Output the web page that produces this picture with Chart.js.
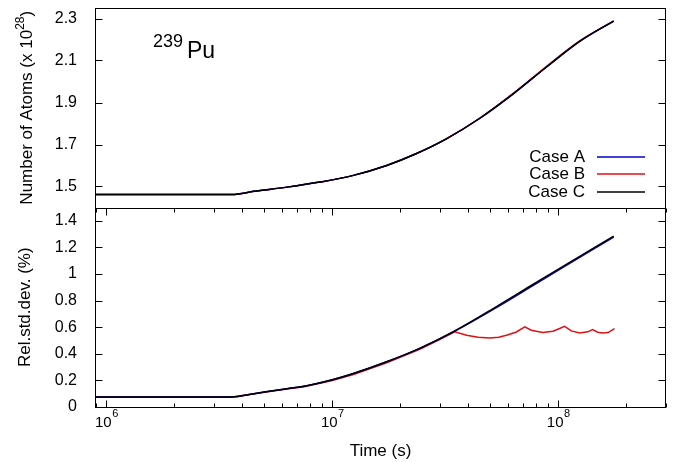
<!DOCTYPE html>
<html>
<head>
<meta charset="utf-8">
<script src="https://cdn.jsdelivr.net/npm/chart.js@4.4.1/dist/chart.umd.min.js"></script>
<style>
  html, body { margin: 0; padding: 0; background: #fff; }
  #wrap { width: 674px; height: 462px; }
</style>
</head>
<body>
<div id="wrap"><canvas id="chart" width="674" height="462"></canvas></div>
<script>
// ─────────────────────────────────────────────
//  DATA
// ─────────────────────────────────────────────

// top panel: number of Pu-239 atoms (x 1e28)
const atomTime = [8.9e5, 3.6e6, 4.5e6, 6.3e6, 8.8e6, 1.24e7, 1.74e7, 2.36e7, 3.2e7, 4.5e7, 6.3e7, 8.85e7, 1.24e8, 1.76e8];
const atomA    = [1.462, 1.462, 1.477, 1.497, 1.521, 1.553, 1.600, 1.657, 1.727, 1.825, 1.940, 2.068, 2.190, 2.288];
const atomB    = [1.462, 1.462, 1.477, 1.497, 1.521, 1.553, 1.600, 1.657, 1.728, 1.826, 1.942, 2.071, 2.192, 2.289];
const atomC    = [1.462, 1.462, 1.477, 1.497, 1.521, 1.553, 1.600, 1.657, 1.727, 1.825, 1.940, 2.068, 2.190, 2.288];

// bottom panel: relative standard deviation (%)
const sdTime = [8.9e5, 3.6e6, 4.5e6, 6.3e6, 7.5e6, 1.0e7, 1.24e7, 1.74e7, 2.45e7, 3.48e7, 5.35e7, 7.5e7, 1.05e8, 1.76e8];
const sdA    = [0.075, 0.075, 0.100, 0.138, 0.156, 0.205, 0.252, 0.340, 0.443, 0.569, 0.749, 0.899, 1.050, 1.278];
const sdC    = [0.075, 0.075, 0.100, 0.138, 0.156, 0.205, 0.252, 0.340, 0.443, 0.572, 0.757, 0.908, 1.058, 1.284];

const sdTimeB = [8.9e5, 3.6e6, 4.5e6, 6.3e6, 7.5e6, 1.0e7, 1.24e7, 1.74e7, 2.45e7, 3.0e7,
                 3.48e7, 3.93e7, 4.42e7, 4.98e7, 5.45e7, 5.9e7, 6.53e7, 7.11e7, 7.6e7, 8.53e7,
                 9.48e7, 1.014e8, 1.067e8, 1.143e8, 1.244e8, 1.35e8, 1.42e8, 1.496e8, 1.571e8, 1.664e8, 1.775e8];
const sdB     = [0.075, 0.075, 0.099, 0.136, 0.153, 0.199, 0.245, 0.332, 0.435, 0.508,
                 0.566, 0.539, 0.524, 0.519, 0.524, 0.539, 0.564, 0.602, 0.577, 0.560,
                 0.570, 0.590, 0.607, 0.572, 0.557, 0.565, 0.582, 0.562, 0.557, 0.560, 0.590];

const caseNames  = ['Case A', 'Case B', 'Case C'];
const caseColors = ['#0000cc', '#e01010', '#000000'];

// ticks
const xTicks     = [1e6, 1e7, 1e8];
const xTickExp   = ['6', '7', '8'];
const atomTicks  = [1.5, 1.7, 1.9, 2.1, 2.3];
const sdTicks    = [0, 0.2, 0.4, 0.6, 0.8, 1.0, 1.2, 1.4];

const FONT = '"Liberation Sans", Arial, sans-serif';
const zip = (xs, ys) => xs.map((x, i) => ({ x, y: ys[i] }));

// ─────────────────────────────────────────────
//  FRAME / INWARD TICKS / LABELS / LEGEND
// ─────────────────────────────────────────────

const framePlugin = {
  id: 'frame',
  afterDraw(chart) {
    const { ctx, chartArea: a, scales } = chart;
    const x = scales.x, yt = scales.yTop, yb = scales.yBot;
    const L = Math.round(a.left) + 0.5, R = Math.round(a.right) - 0.5;
    const px = v => Math.round(v) + 0.5;

    ctx.save();
    ctx.strokeStyle = '#000';
    ctx.lineWidth = 1;

    // panel frames
    [yt, yb].forEach(s => {
      ctx.strokeRect(L, px(s.top), R - L, Math.round(s.bottom) - Math.round(s.top));
    });

    ctx.beginPath();
    // y ticks both sides
    [[yt, atomTicks], [yb, sdTicks]].forEach(([s, ticks]) => {
      ticks.forEach(v => {
        const y = px(s.getPixelForValue(v));
        ctx.moveTo(L, y); ctx.lineTo(L + 7, y);
        ctx.moveTo(R, y); ctx.lineTo(R - 7, y);
      });
    });
    // x ticks on bottom panel, top and bottom edges
    const bTop = px(yb.top), bBot = px(yb.bottom);
    for (let d = 1e5; d <= 1e9; d *= 10) {
      for (let k = 1; k <= 9; k++) {
        const v = d * k;
        if (v < x.min || v > x.max) continue;
        const len = k === 1 ? 7 : 4;
        const xx = px(x.getPixelForValue(v));
        ctx.moveTo(xx, bBot); ctx.lineTo(xx, bBot - len);
        ctx.moveTo(xx, bTop); ctx.lineTo(xx, bTop + len);
      }
    }
    ctx.stroke();

    ctx.fillStyle = '#000';
    ctx.textBaseline = 'alphabetic';

    // x tick labels: 10 with raised exponent
    xTicks.forEach((v, i) => {
      const cx = x.getPixelForValue(v);
      ctx.font = `15px ${FONT}`;
      const wBase = ctx.measureText('10').width;
      ctx.font = `11px ${FONT}`;
      const wExp = ctx.measureText(xTickExp[i]).width;
      const left = cx - (wBase + wExp) / 2;
      ctx.textAlign = 'left';
      ctx.font = `15px ${FONT}`;
      ctx.fillText('10', left, 427);
      ctx.font = `11px ${FONT}`;
      ctx.fillText(xTickExp[i], left + wBase + 0.5, 417);
    });

    // top panel y title with superscript
    ctx.save();
    ctx.translate(26, (yt.top + yt.bottom) / 2);
    ctx.rotate(-Math.PI / 2);
    const p1 = 'Number of Atoms (x 10', p2 = '28', p3 = ')';
    ctx.font = `17px ${FONT}`;
    const w1 = ctx.measureText(p1).width, w3 = ctx.measureText(p3).width;
    ctx.font = `12px ${FONT}`;
    const w2 = ctx.measureText(p2).width;
    let u = -(w1 + w2 + w3) / 2;
    ctx.textAlign = 'left';
    ctx.font = `17px ${FONT}`;
    ctx.fillText(p1, u, 6); u += w1;
    ctx.font = `12px ${FONT}`;
    ctx.fillText(p2, u, -2); u += w2;
    ctx.font = `17px ${FONT}`;
    ctx.fillText(p3, u, 6);
    ctx.restore();

    // isotope label
    ctx.textAlign = 'left';
    ctx.font = `18px ${FONT}`;
    ctx.fillText('239', 153, 47);
    ctx.font = `23px ${FONT}`;
    ctx.fillText('Pu', 187, 58);

    // legend
    ctx.font = `17px ${FONT}`;
    ctx.textAlign = 'right';
    ctx.textBaseline = 'middle';
    const legendY = [157, 174, 192];
    caseNames.forEach((name, i) => {
      ctx.fillStyle = '#000';
      ctx.fillText(name, 585, legendY[i]);
      ctx.strokeStyle = caseColors[i];
      ctx.lineWidth = 1.5;
      ctx.beginPath();
      ctx.moveTo(597, legendY[i]);
      ctx.lineTo(645, legendY[i]);
      ctx.stroke();
    });
    ctx.restore();
  }
};

// ─────────────────────────────────────────────
//  CHART
// ─────────────────────────────────────────────

Chart.defaults.font.family = FONT;
Chart.defaults.color = '#000';

const line = (label, data, color, axis, extra) => Object.assign({
  label, data, yAxisID: axis,
  borderColor: color, backgroundColor: color,
  borderWidth: 1.5, pointRadius: 0, fill: false,
  cubicInterpolationMode: 'monotone'
}, extra || {});

// fixed width, no extra label overflow padding
const fitY = s => { s.width = 95; s.paddingTop = 0; s.paddingBottom = 0; };

new Chart(document.getElementById('chart'), {
  type: 'line',
  data: {
    datasets: [
      // first dataset is drawn on top
      line(caseNames[2], zip(atomTime, atomC), caseColors[2], 'yTop'),
      line(caseNames[0], zip(atomTime, atomA), caseColors[0], 'yTop'),
      line(caseNames[1], zip(atomTime, atomB), caseColors[1], 'yTop'),
      line(caseNames[2], zip(sdTime, sdC), caseColors[2], 'yBot'),
      line(caseNames[0], zip(sdTime, sdA), caseColors[0], 'yBot'),
      line(caseNames[1], zip(sdTimeB, sdB), caseColors[1], 'yBot', { cubicInterpolationMode: 'default', tension: 0 })
    ]
  },
  options: {
    responsive: false,
    animation: false,
    layout: { padding: { top: 8, right: 8, left: 0, bottom: 0 } },
    plugins: { legend: { display: false }, tooltip: { enabled: false } },
    scales: {
      x: {
        type: 'logarithmic',
        position: 'bottom',
        min: 8.9e5, max: 3.0e8,
        grid: { display: false },
        border: { display: false },
        afterBuildTicks: s => { s.ticks = xTicks.map(v => ({ value: v, major: true })); },
        afterFit: s => { s.height = 55; s.paddingLeft = 0; s.paddingRight = 0; },
        ticks: { display: false },
        title: { display: true, text: 'Time (s)', font: { size: 17 }, padding: { top: 0, bottom: 0 } }
      },
      // in a stack the later scale is placed higher
      yBot: {
        type: 'linear',
        position: 'left',
        stack: 'panels',
        stackWeight: 1,
        min: 0, max: 1.5,
        grid: { display: false },
        border: { display: false },
        afterBuildTicks: s => { s.ticks = sdTicks.map(v => ({ value: v })); },
        afterFit: fitY,
        ticks: { autoSkip: false, padding: 10, font: { size: 16 }, callback: v => String(Math.round(v * 10) / 10) },
        title: { display: true, text: 'Rel.std.dev. (%)', font: { size: 17 }, padding: { top: 15, bottom: 0 } }
      },
      yTop: {
        type: 'linear',
        position: 'left',
        stack: 'panels',
        stackWeight: 1,
        min: 1.4, max: 2.35,
        grid: { display: false },
        border: { display: false },
        afterBuildTicks: s => { s.ticks = atomTicks.map(v => ({ value: v })); },
        afterFit: fitY,
        ticks: { autoSkip: false, padding: 10, font: { size: 16 }, callback: v => v.toFixed(1) },
        title: { display: false }
      }
    }
  },
  plugins: [framePlugin]
});
</script>
</body>
</html>
